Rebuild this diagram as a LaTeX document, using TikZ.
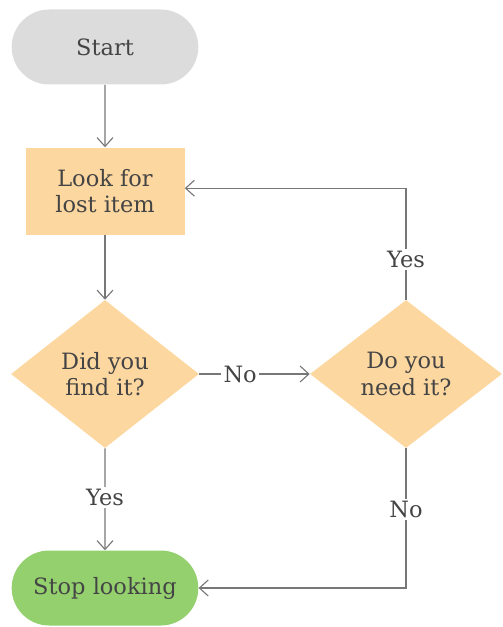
\documentclass[tikz,border=0pt]{standalone}
\usepackage{fontspec}
\setmainfont{DejaVu Serif}
\usepackage{xcolor}
\usepackage{tikz}
\usetikzlibrary{shapes.geometric,shapes.misc,arrows.meta}
\definecolor{startgray}{HTML}{DCDCDC}
\definecolor{boxorange}{HTML}{FCD7A0}
\definecolor{stopgreen}{HTML}{94D16E}
\definecolor{linegray}{HTML}{777777}
\definecolor{textgray}{HTML}{444444}

\begin{document}
\begin{tikzpicture}[every node/.style={font=\fontsize{16}{19}\selectfont, text=textgray},
  pill/.style={rounded rectangle, minimum width=4.9cm, minimum height=1.875cm},
  action/.style={rectangle, fill=boxorange, minimum width=3.975cm, minimum height=2.175cm, align=center},
  question/.style={diamond, fill=boxorange, inner sep=0pt, minimum width=4.7cm, minimum height=3.7cm, align=center},
  flow/.style={draw=linegray, line width=0.8pt, -{Straight Barb[length=2.2mm, width=4mm]}},
  answer/.style={fill=white, inner sep=1.5pt}]
  \useasboundingbox (0,0) rectangle (12.55,-15.675);
  % Start
  \node[pill, fill=startgray] (start) at (2.625,-1.175) {Start};
  % Look for lost item
  \node[action] (look) at (2.625,-4.775) {Look for\\lost item};
  % Questions
  \node[question] (found) at (2.625,-9.35) {Did you\\find it?};
  \node[question, minimum width=4.8cm] (need) at (10.15,-9.35) {Do you\\need it?};
  % Stop looking
  \node[pill, fill=stopgreen] (stop) at (2.625,-14.7) {Stop looking};
  % Connectors
  \draw[flow] (start) -- (look);
  \draw[flow] (look) -- (found);
  \draw[flow] (found) -- node[answer, pos=0.37] {No} (need);
  \draw[flow] (need.north) |- node[answer, pos=0.18] {Yes} ([yshift=0.07cm]look.east);
  \draw[flow] (found) -- node[answer, pos=0.48] {Yes} (stop);
  \draw[flow] (need.south) |- node[answer, pos=0.22] {No} (stop.east);
\end{tikzpicture}
\end{document}
